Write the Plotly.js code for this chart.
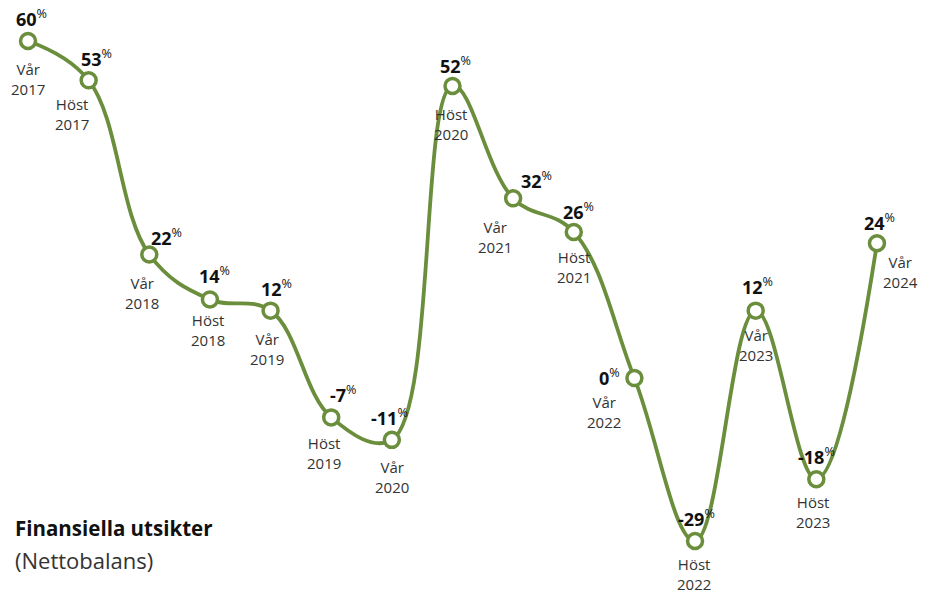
<!DOCTYPE html>
<html><head><meta charset="utf-8">
<script src="https://cdn.plot.ly/plotly-3.0.1.min.js"></script>
<style>html,body{margin:0;padding:0;background:#fff;}#chart{width:933px;height:592px;}</style>
</head><body><div id="chart"></div>
<script>
const seasons = ["Vår","Höst","Vår","Höst","Vår","Höst","Vår","Höst","Vår","Höst","Vår","Höst","Vår","Höst","Vår"];
const years = ["2017","2017","2018","2018","2019","2019","2020","2020","2021","2021","2022","2022","2023","2023","2024"];
const values = [60,53,22,14,12,-7,-11,52,32,26,0,-29,12,-18,24];

// label offsets in pixels (layout only)
const valOff = [[3,-23],[8,-22],[17,-17],[5,-24],[6,-23],[12,-23],[-2,-23],[3,-21],[23,-18],[5,-21],[-25,-1],[1,-23],[2,-25],[0,-23],[3,-21]];
const seaOff = [[0,38],[-17,34],[-7,39],[-2,31],[-4,38],[-7,36],[0,37],[-1,38],[-18,39],[0,35],[-30,34],[-1,33],[0,34],[-3,33],[24,29]];

const green = "#6a8e3c";
const xs = values.map((v,i)=>i);
const ann = [];
values.forEach((v,i)=>{
  ann.push({x:i,y:v,xref:"x",yref:"y",showarrow:false,xanchor:"center",yanchor:"middle",
    xshift:valOff[i][0],yshift:-valOff[i][1],
    text:"<b>"+v+"</b><sup>%</sup>",font:{family:"Open Sans, sans-serif",size:18,color:"#111"}});
  ann.push({x:i,y:v,xref:"x",yref:"y",showarrow:false,xanchor:"center",yanchor:"middle",
    xshift:seaOff[i][0],yshift:-seaOff[i][1],
    text:seasons[i]+"<br>"+years[i],font:{family:"Open Sans, sans-serif",size:15,color:"#333"}});
});
ann.push({xref:"paper",yref:"paper",x:13/933,y:1-528/592,xanchor:"left",yanchor:"middle",showarrow:false,
  text:"<b>Finansiella utsikter</b>",font:{family:"Open Sans, sans-serif",size:20.5,color:"#111"}});
ann.push({xref:"paper",yref:"paper",x:13/933,y:1-560/592,xanchor:"left",yanchor:"middle",showarrow:false,
  text:"(Nettobalans)",font:{family:"Open Sans, sans-serif",size:22,color:"#333"}});

const trace = {x:xs,y:values,type:"scatter",mode:"lines+markers",
  line:{color:green,width:3.8,shape:"spline",smoothing:1.1},
  marker:{symbol:"circle",size:15,color:"#fff",line:{color:green,width:3.5}},
  hoverinfo:"skip"};

const layout = {width:933,height:592,margin:{l:0,r:0,t:0,b:0},
  paper_bgcolor:"#fff",plot_bgcolor:"#fff",showlegend:false,
  xaxis:{range:[-0.462,14.924],visible:false,fixedrange:true},
  yaxis:{range:[-38.08,67.30],visible:false,fixedrange:true},
  annotations:ann};
Plotly.newPlot("chart",[trace],layout,{displayModeBar:false,staticPlot:true});
</script></body></html>
